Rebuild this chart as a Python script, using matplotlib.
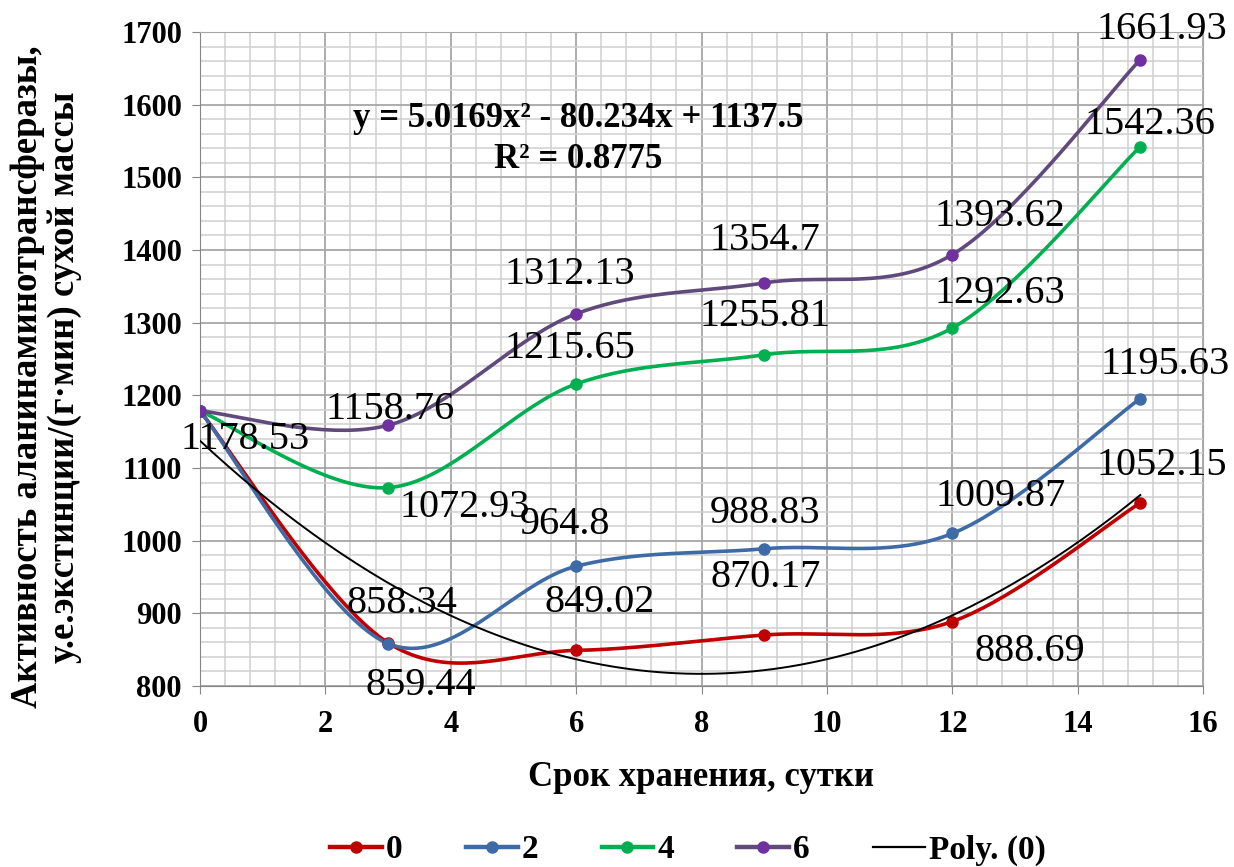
import numpy as np
import matplotlib
matplotlib.use("Agg")
import matplotlib.pyplot as plt
from matplotlib.ticker import MultipleLocator

plt.rcParams['font.family'] = ['Liberation Serif', 'DejaVu Serif']

days = [0, 3, 6, 9, 12, 15]
s0 = [1178.53, 859.44, 849.02, 870.17, 888.69, 1052.15]
s2 = [1178.53, 858.34, 964.8, 988.83, 1009.87, 1195.63]
s4 = [1178.53, 1072.93, 1215.65, 1255.81, 1292.63, 1542.36]
s6 = [1178.53, 1158.76, 1312.13, 1354.7, 1393.62, 1661.93]
series_names = ['0', '2', '4', '6']
line_colors = ['#C00000', '#3E6BA6', '#00B050', '#604A7B']
marker_colors = ['#C00000', '#3E6BA6', '#00B050', '#7030A0']

# label offsets in pixels (dx, dy) per series point
offsets = [
    [(45, -29), (33, -43), (24, 48), (1, 58), (78, -30), (22, 37)],
    [None, (14, 40), (-11, 42), (1, 35), (48, 37), (25, 34)],
    [None, (77, -20), (-6, 35), (1, 38), (48, 35), (10, 22)],
    [None, (2, 16), (-6, 39), (1, 42), (48, 38), (22, 30)],
]


def smooth(x, y, n=40):
    x = np.asarray(x, float); y = np.asarray(y, float)
    P = np.column_stack([x, y])
    out = []
    for i in range(len(P) - 1):
        p0 = P[i - 1] if i > 0 else P[i]
        p1 = P[i]
        p2 = P[i + 1]
        p3 = P[i + 2] if i + 2 < len(P) else P[i + 1]
        c1 = p1 + (p2 - p0) / 6.0
        c2 = p2 - (p3 - p1) / 6.0
        t = np.linspace(0, 1, n)[:, None]
        seg = (1 - t) ** 3 * p1 + 3 * (1 - t) ** 2 * t * c1 + 3 * (1 - t) * t ** 2 * c2 + t ** 3 * p2
        out.append(seg if i == 0 else seg[1:])
    out = np.vstack(out)
    return out[:, 0], out[:, 1]


fig = plt.figure(figsize=(12.34, 8.67), dpi=100)
ax = fig.add_axes([200 / 1234, 1 - 686 / 867, 1003 / 1234, 654 / 867])

ax.set_xlim(0, 16)
ax.set_ylim(800, 1700)
ax.xaxis.set_major_locator(MultipleLocator(2))
ax.xaxis.set_minor_locator(MultipleLocator(0.4))
ax.yaxis.set_major_locator(MultipleLocator(100))
ax.yaxis.set_minor_locator(MultipleLocator(20))
ax.grid(which='major', color='#A6A6A6', linewidth=1.3)
ax.grid(which='minor', color='#D0D0D0', linewidth=1.1)
ax.set_axisbelow(True)
for side in ['top', 'right']:
    ax.spines[side].set_color('#A6A6A6')
for side in ['left', 'bottom']:
    ax.spines[side].set_color('#868686')
ax.tick_params(which='minor', length=0)
ax.tick_params(which='major', length=6, color='#868686', labelsize=22)
ax.tick_params(axis='x', pad=11)
ax.tick_params(axis='y', pad=7)
for lab in ax.get_xticklabels() + ax.get_yticklabels():
    lab.set_fontweight('bold')

all_series = [s0, s2, s4, s6]
handles = []
for k, (vals, lc, mc) in enumerate(zip(all_series, line_colors, marker_colors)):
    xs, ys = smooth(days, vals)
    ax.plot(xs, ys, color=lc, linewidth=2.6, zorder=3 + k * 0.1, solid_capstyle='round')
    ax.plot(days, vals, linestyle='none', marker='o', markersize=8, color=mc, zorder=4)
    h, = ax.plot([], [], color=lc, linewidth=3.2, marker='o', markersize=8,
                 markerfacecolor=mc, markeredgecolor=mc, label=series_names[k])
    handles.append(h)
    for i, (xv, yv) in enumerate(zip(days, vals)):
        off = offsets[k][i]
        if off is None:
            continue
        ax.annotate(f"{yv:g}", (xv, yv), xytext=off, textcoords='offset pixels',
                    ha='center', va='center', fontsize=29, zorder=6, annotation_clip=False)

coef = np.polyfit(days, s0, 2)
xf = np.linspace(0, 15, 200)
ax.plot(xf, np.polyval(coef, xf), color='black', linewidth=1.4, zorder=5)
hp, = ax.plot([], [], color='black', linewidth=1.6, label='Poly. (0)')
handles.append(hp)

ax.text(6.03, 1553, "y = 5.0169x² - 80.234x + 1137.5\nR² = 0.8775", ha='center', va='center',
        fontsize=25, fontweight='bold', linespacing=1.3, multialignment='center', zorder=6)

ax.set_xlabel("Срок хранения, сутки", fontsize=25, fontweight='bold', labelpad=16)
ax.set_ylabel("Активность аланинаминотрансферазы,\nу.е.экстинции/(г·мин) сухой массы",
              fontsize=26.5, fontweight='bold', linespacing=1.05)
ax.yaxis.set_label_coords(-0.118, 0.4725)

leg = fig.legend(handles=handles, loc='center', bbox_to_anchor=(0.5575, 1 - 850 / 867), ncol=5,
                 frameon=False, prop={'size': 24, 'weight': 'bold'}, handlelength=1.55,
                 columnspacing=1.9, handletextpad=0.12)

fig.savefig("out.png", dpi=100)
